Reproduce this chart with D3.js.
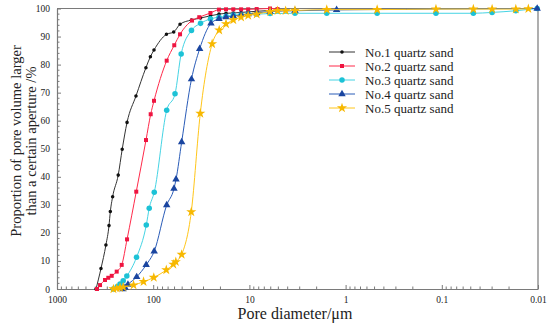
<!DOCTYPE html>
<html>
<head>
<meta charset="utf-8">
<script src="https://cdn.jsdelivr.net/npm/d3@7"></script>
<style>
    body { margin: 0; background: #fff; }
    svg text { font-family: "Liberation Serif", "Times New Roman", serif; fill: #222; }
</style>
</head>
<body>
<svg id="chart" width="550" height="329"></svg>
<script>
// Pore size distribution: [pore diameter (µm), percent]
var sand1 = [[393, 0], [349, 7.3], [310, 15.7], [288, 22.6], [279, 27.6], [264, 32.9],
    [231, 40.6], [210, 49.8], [187, 59.4], [151, 68.8], [119, 78.9], [107, 82.8],
    [98.1, 85.2], [72.8, 90.8], [61.2, 91.6], [52.6, 94.4], [40, 95.9], [32.2, 96.6],
    [25.4, 97.4], [20.7, 98.0], [17.5, 98.3], [14.7, 98.4], [12.2, 98.6], [10.3, 98.8],
    [8.4, 99.0], [6.1, 99.3]];
var sand2 = [[384, 0], [357, 1.4], [317, 3.2], [293, 4.0], [270, 4.7], [239.5, 6.2],
    [212.5, 8.6], [187, 17.7], [150, 34.7], [118.8, 53.1], [106.2, 62.3], [98.1, 67.1],
    [72.4, 81.4], [60.4, 86.9], [52.6, 90.8], [39.5, 95.7], [33.2, 96.9], [25.4, 98.4],
    [20.7, 99.6], [17.5, 99.7], [14.7, 99.7], [12.2, 99.7], [10.3, 99.7], [8.4, 99.8],
    [6.1, 100], [5.1, 99.8]];
var sand3 = [[260, 0], [236, 0.9], [221, 1.8], [205, 2.9], [188, 4.6], [149, 11.3],
    [118, 22.8], [110, 28.8], [97.5, 34.5], [72.4, 63.7], [59.3, 69.6], [51.2, 83.8],
    [40, 92.2], [32.2, 94.7], [25.4, 96.3], [20.7, 96.9], [17.5, 97.2], [14.7, 97.7],
    [12.2, 97.8], [10.3, 98.0], [8.4, 98.0], [6.1, 98.2], [3.36, 98.3], [1.57, 98.3],
    [0.47, 98.3], [0.115, 98.3], [0.047, 98.3], [0.030, 98.6], [0.017, 99.2], [0.0102, 100]];
var sand4 = [[206, 0], [196, 0.5], [183, 1.6], [148.5, 4.3], [118.3, 8.6], [97.7, 13.4],
    [72.4, 29.9], [60.8, 35.8], [57.9, 39.1], [50.6, 52.4], [40, 74.8], [32.9, 85.6],
    [25.1, 94.7], [20.7, 96.3], [17.5, 96.9], [14.7, 97.3], [12.2, 97.7], [10.3, 98.0],
    [8.4, 98.4], [6.1, 98.9], [3.36, 99.2], [1.24, 99.5], [0.0102, 100]];
var sand5 = [[259, 0], [239.5, 0.25], [221, 0.5], [205, 0.7], [160, 1.4], [126, 2.6],
    [98.6, 4.1], [73.1, 6.8], [61.8, 8.8], [58.2, 9.7], [50.6, 12.3], [40.2, 27.5],
    [32.4, 62.6], [24.4, 87.4], [20.6, 92.3], [17.5, 94.5], [14.7, 95.9], [12.2, 96.9],
    [10.3, 97.5], [8.4, 98.0], [6.1, 98.9], [5.1, 99.2], [4.2, 99.2], [3.36, 99.3],
    [1.57, 99.6], [0.47, 99.6], [0.115, 99.8], [0.047, 99.8], [0.030, 99.8],
    [0.017, 99.8], [0.0126, 99.9]];

var seriesNames = ['No.1 quartz sand', 'No.2 quartz sand', 'No.3 quartz sand',
    'No.4 quartz sand', 'No.5 quartz sand'];
var seriesData = [sand1, sand2, sand3, sand4, sand5];
var xTicks = [1000, 100, 10, 1, 0.1, 0.01];
var xTickLabels = ['1000', '100', '10', '1', '0.1', '0.01'];
var yTicks = [0, 10, 20, 30, 40, 50, 60, 70, 80, 90, 100];

var lineColors = ['#333333', '#ff2a4a', '#45d4e4', '#2a5cb8', '#ffc61a'];
var markColors = ['#111111', '#ee1440', '#1cc2d6', '#1a45a0', '#f7b800'];
var markShapes = [d3.symbolCircle, d3.symbolSquare, d3.symbolCircle,
    d3.symbolTriangle, d3.symbolStar];
var markSizes = [10, 16, 24, 24, 32];

var svg = d3.select('#chart');
var plotLeft = 57, plotRight = 538, plotTop = 8.5, plotBottom = 289;

var x = d3.scaleLog().domain([1000, 0.01]).range([plotLeft, plotRight]);
var y = d3.scaleLinear().domain([0, 100]).range([plotBottom, plotTop]);

var axisColor = '#7a7a7a';

// frame (top and right sides)
svg.append('path')
    .attr('d', 'M' + plotLeft + ',' + plotTop + 'H' + plotRight + 'V' + plotBottom)
    .attr('fill', 'none')
    .attr('stroke', axisColor)
    .attr('stroke-width', 1.2);

// minor x ticks on the log axis
var minorX = [];
for (var e = -2; e < 3; e++)
    for (var m = 2; m < 10; m++)
        minorX.push(m * Math.pow(10, e));

var xAxis = svg.append('g')
    .attr('transform', 'translate(0,' + plotBottom + ')')
    .call(d3.axisBottom(x).tickValues(xTicks)
        .tickFormat(function(d, i) { return xTickLabels[i]; })
        .tickSizeInner(-4).tickSizeOuter(0).tickPadding(7));
xAxis.append('g').selectAll('line')
    .data(minorX)
    .enter().append('line')
        .attr('x1', function(d) { return x(d); })
        .attr('x2', function(d) { return x(d); })
        .attr('y1', 0)
        .attr('y2', -2.5);

var yAxis = svg.append('g')
    .attr('transform', 'translate(' + plotLeft + ',0)')
    .call(d3.axisLeft(y).tickValues(yTicks)
        .tickSizeInner(-4).tickSizeOuter(0).tickPadding(7));
yAxis.append('g').selectAll('line')
    .data(d3.range(2, 100, 2).filter(function(d) { return d % 10 !== 0; }))
    .enter().append('line')
        .attr('x1', 0)
        .attr('x2', 2.5)
        .attr('y1', function(d) { return y(d); })
        .attr('y2', function(d) { return y(d); });

[xAxis, yAxis].forEach(function(ax) {
    ax.select('.domain').attr('stroke', axisColor).attr('stroke-width', 1.2);
    ax.selectAll('line').attr('stroke', axisColor);
    ax.selectAll('text').attr('font-size', 9.5).attr('fill', '#222');
});

// curves
var line = d3.line()
    .x(function(d) { return x(d[0]); })
    .y(function(d) { return y(d[1]); })
    .curve(d3.curveMonotoneX);

var symbol = d3.symbol();

seriesData.forEach(function(data, i) {
    var g = svg.append('g');
    g.append('path')
        .datum(data)
        .attr('d', line)
        .attr('fill', 'none')
        .attr('stroke', lineColors[i])
        .attr('stroke-width', 1);
    g.selectAll('.mark')
        .data(data)
        .enter().append('path')
            .attr('class', 'mark')
            .attr('transform', function(d) {
                return 'translate(' + x(d[0]) + ',' + y(d[1]) + ')';
            })
            .attr('d', symbol.type(markShapes[i]).size(markSizes[i])())
            .attr('fill', markColors[i]);
});

// legend
var legend = svg.append('g').attr('transform', 'translate(329,52)');
seriesNames.forEach(function(name, i) {
    var row = legend.append('g').attr('transform', 'translate(0,' + (i * 14) + ')');
    row.append('line')
        .attr('x1', 0).attr('x2', 26)
        .attr('stroke', lineColors[i])
        .attr('stroke-width', 1);
    row.append('path')
        .attr('transform', 'translate(13,0)')
        .attr('d', symbol.type(markShapes[i]).size(markSizes[i])())
        .attr('fill', markColors[i]);
    row.append('text')
        .attr('x', 36)
        .attr('dy', '0.35em')
        .attr('font-size', 13)
        .text(name);
});

// axis titles
svg.append('text')
    .attr('x', 295)
    .attr('y', 319)
    .attr('text-anchor', 'middle')
    .attr('font-size', 16)
    .text('Pore diameter/μm');

var yTitle = svg.append('text')
    .attr('transform', 'translate(21,141) rotate(-90)')
    .attr('text-anchor', 'middle')
    .attr('font-size', 14.5);
yTitle.append('tspan')
    .attr('x', 0).attr('dy', 0)
    .text('Proportion of pore volume larger');
yTitle.append('tspan')
    .attr('x', 0).attr('dy', 15)
    .text('than a certain aperture /%');
</script>
</body>
</html>
